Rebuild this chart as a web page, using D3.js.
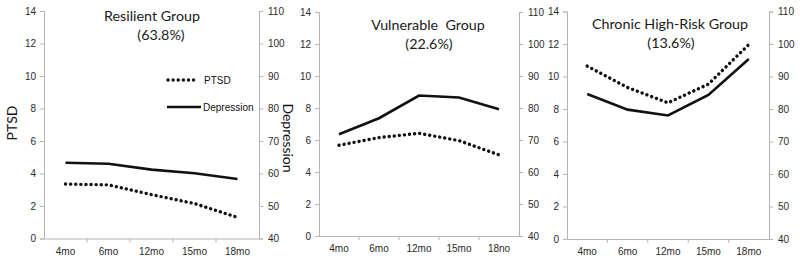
<!DOCTYPE html>
<html>
<head>
<meta charset="utf-8">
<script src="https://cdn.jsdelivr.net/npm/d3@7"></script>
<style>
  body { margin: 0; background: #fff; }
  .tick text { font-family: "Liberation Sans", Arial, sans-serif; font-size: 10px; fill: #2a2a2a; }
  .domain, .tick line { stroke: #b3b3b3; }
  .title { font-family: Lato, sans-serif; font-size: 14.3px; fill: #1a1a1a; white-space: pre; }
  .axtitle { font-family: Lato, sans-serif; font-size: 14px; fill: #111; }
  .legend { font-family: "Liberation Sans", Arial, sans-serif; font-size: 10px; fill: #111; }
</style>
</head>
<body>
<div id="chart"></div>
<script>
const width = 800,
    height = 262;

// data
const months = ["4mo", "6mo", "12mo", "15mo", "18mo"];
const monthsMid = ["4mo", "6mo", "12mo", "15mo", "18no"];   // typo kept from the original
const groups = ["Resilient Group", "Vulnerable  Group", "Chronic High-Risk Group"];
const shares = ["(63.8%)", "(22.6%)", "(13.6%)"];
const ptsdTicks = [0, 2, 4, 6, 8, 10, 12, 14];
const depTicks = [40, 50, 60, 70, 80, 90, 100, 110];

const ptsd = [
    [3.35, 3.3, 2.7, 2.15, 1.3],
    [5.67, 6.15, 6.42, 5.96, 5.07],
    [10.64, 9.32, 8.38, 9.53, 11.97]
];
const depression = [
    [63.3, 63.0, 61.2, 60.1, 58.3],
    [71.8, 76.8, 83.9, 83.3, 79.6],
    [84.6, 79.8, 78.0, 84.3, 95.4]
];

// panel boxes
const panels = [
    {x0: 44, x1: 259, y0: 11, y1: 238.5, cats: months, tx: 152, ty: 21},
    {x0: 319, x1: 519, y0: 12, y1: 236, cats: monthsMid, tx: 428, ty: 30},
    {x0: 567, x1: 769, y0: 11.5, y1: 239, cats: months, tx: 670, ty: 29}
];

const svg = d3.select("#chart")
  .append("svg")
  .attr("width", width)
  .attr("height", height);

panels.forEach(function(p, i) {
    const g = svg.append("g");

    const x = d3.scaleBand().domain(p.cats).range([p.x0, p.x1]);
    const yL = d3.scaleLinear().domain([0, 14]).range([p.y1, p.y0]);
    const yR = d3.scaleLinear().domain([40, 110]).range([p.y1, p.y0]);

    g.append("g")
        .attr("transform", "translate(" + p.x0 + ",0)")
        .call(d3.axisLeft(yL).tickValues(ptsdTicks).tickSize(4).tickPadding(4));

    g.append("g")
        .attr("transform", "translate(" + p.x1 + ",0)")
        .call(d3.axisRight(yR).tickValues(depTicks).tickSize(4).tickPadding(5));

    const xa = g.append("g")
        .attr("transform", "translate(0," + p.y1 + ")")
        .call(d3.axisBottom(x).tickSize(0).tickPadding(9));
    // tick marks sit between categories
    xa.selectAll(".sep")
        .data(p.cats.slice(1))
        .enter().append("line")
        .attr("class", "sep")
        .attr("x1", d => x(d)).attr("x2", d => x(d))
        .attr("y1", 0).attr("y2", 4)
        .attr("stroke", "#b3b3b3");

    const lineP = d3.line()
        .x((d, j) => x(p.cats[j]) + x.bandwidth() / 2)
        .y(d => yL(d));
    const lineD = d3.line()
        .x((d, j) => x(p.cats[j]) + x.bandwidth() / 2)
        .y(d => yR(d));

    g.append("path")
        .datum(depression[i])
        .attr("d", lineD)
        .attr("fill", "none")
        .attr("stroke", "#111")
        .attr("stroke-width", 2.6);

    g.append("path")
        .datum(ptsd[i])
        .attr("d", lineP)
        .attr("fill", "none")
        .attr("stroke", "#111")
        .attr("stroke-width", 3.4)
        .attr("stroke-linecap", "round")
        .attr("stroke-dasharray", "0.1 5");

    g.append("text")
        .attr("class", "title")
        .attr("x", p.tx).attr("y", p.ty)
        .attr("text-anchor", "middle")
        .text(groups[i]);
    g.append("text")
        .attr("class", "title")
        .attr("x", i == 0 ? p.tx + 9 : p.tx + 1).attr("y", p.ty + 19)
        .attr("text-anchor", "middle")
        .text(shares[i]);
});

// axis titles
svg.append("text")
    .attr("class", "axtitle")
    .attr("transform", "translate(17,123) rotate(-90)")
    .attr("text-anchor", "middle")
    .text("PTSD");
svg.append("text")
    .attr("class", "axtitle")
    .attr("transform", "translate(283,138) rotate(90)")
    .attr("text-anchor", "middle")
    .text("Depression");

// legend
const legend = svg.append("g");
legend.append("line")
    .attr("x1", 168).attr("x2", 197).attr("y1", 80).attr("y2", 80)
    .attr("stroke", "#111").attr("stroke-width", 3.4)
    .attr("stroke-linecap", "round").attr("stroke-dasharray", "0.1 5");
legend.append("text").attr("class", "legend")
    .attr("x", 204).attr("y", 84).text("PTSD");
legend.append("line")
    .attr("x1", 167).attr("x2", 201).attr("y1", 107).attr("y2", 107)
    .attr("stroke", "#111").attr("stroke-width", 2.6);
legend.append("text").attr("class", "legend")
    .attr("x", 203).attr("y", 111).text("Depression");
</script>
</body>
</html>
